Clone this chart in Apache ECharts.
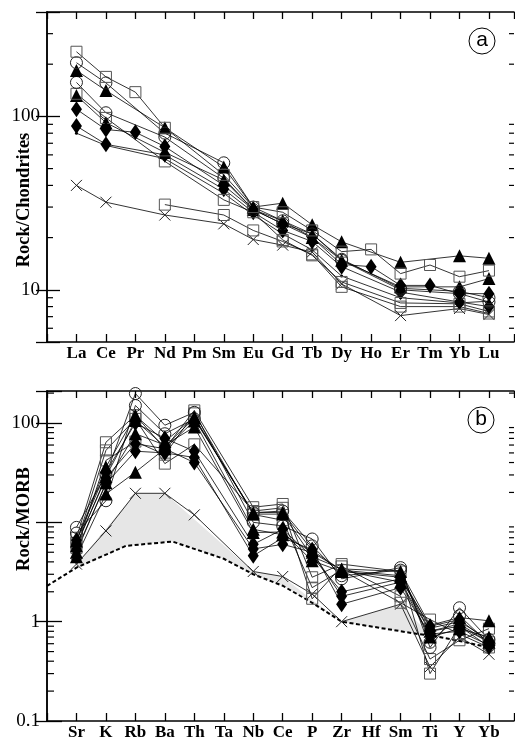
<!DOCTYPE html>
<html><head><meta charset="utf-8">
<script src="https://cdn.jsdelivr.net/npm/echarts@6/dist/echarts.min.js"></script>
<style>html,body{margin:0;padding:0;background:#fff}#c{width:515px;height:745px}</style>
</head><body><div id="c"></div>
<script>
// ---------- categories & tick labels ----------
const reeLabels = ['La','Ce','Pr','Nd','Pm','Sm','Eu','Gd','Tb','Dy','Ho','Er','Tm','Yb','Lu'];
const spiderLabels = ['Sr','K','Rb','Ba','Th','Ta','Nb','Ce','P','Zr','Hf','Sm','Ti','Y','Yb'];
const topYTicks = [10, 100];
const bottomYTicks = [0.1, 1, 100];

// ---------- (a) chondrite-normalised REE ----------
const reeSq1 = [236, 169, 138, 86, null, 46, 30, 28, 22, 16.6, 17.1, 12.4, 13.9, 11.9, 12.9];
const reeDi1 = [110, 84, 81, 67, null, 40, 29, 24, 20, 14, 13.6, 10.6, 10.6, 9.5, 9.5];
const reeCi1 = [204, 156, null, 80, null, 54, 30, 25, 21, 14.8, null, 10, null, 9.5, 8.5];
const reeTr1 = [184, 141, null, 86, null, 51, 30, 31.6, 23.7, 18.9, null, 14.4, null, 15.7, 15.2];
const reeCi2 = [157, 105, null, 76, null, 44, 29, 24, 21, 15, null, 10.2, null, 9.8, 9];
const reeSq2 = [135, 98, null, 55, null, 33, 28, 19.4, 15.8, 11.1, null, 8.4, null, 8.3, 7.5];
const reeTr2 = [132, 92, null, 62, null, 43, 29, 25, 20, 14.8, null, 10.4, null, 10.4, 11.6];
const reeDi2 = [88, 69, null, 60, null, 38, 28, 22, 19, 13.6, null, 9.7, null, 8.5, 8];
const reeDot = [80, 68, null, 57, null, 36, 27, 21, 17, 12, null, 9, null, 8.4, 8.6];
const reeSq3 = [null, null, null, 31, null, 27, 22, 19, 16, 10.4, null, 8, null, 8, 7.3];
const reeX   = [40, 32, null, 27, null, 24, 19.5, 18.1, 16.5, 10.8, null, 7.1, null, 7.8, 7.2];

// ---------- (b) MORB-normalised spidergram ----------
const morbSq1 = [7.0, 64, 120, 55, 134, null, 14.2, 15.3, 2.8, 3.8, null, 3.2, 0.30, 0.90, 0.62];
const morbSq2 = [6.2, 53, 110, 39, 61, null, 13.0, 14.0, 1.7, 3.6, null, 1.8, 0.42, 0.65, 0.85];
const morbSq3 = [5.5, 42, 65, 48, 125, null, 12.0, 10.5, 2.2, 3.3, null, 1.55, 1.05, 0.75, 0.55];
const morbCi1 = [8.9, 30, 198, 95, 128, null, 10.0, 9.2, 6.8, 2.7, null, 3.5, 0.55, 1.38, 0.66];
const morbCi2 = [7.8, 16.5, 150, 78, 110, null, 12.5, 13.0, 5.8, 2.9, null, 3.3, 0.62, 1.15, 0.60];
const morbTr1 = [6.5, 36, 119, 65, 115, null, 12.1, 12.1, 4.5, 3.4, null, 3.2, 0.92, 1.10, 1.02];
const morbTr2 = [5.0, 25, 78, 60, 91, null, 7.9, 8.0, 4.1, 3.2, null, 2.8, 0.80, 0.95, 0.62];
const morbTr3 = [4.5, 19.3, 32, 55, 105, null, 8.5, 7.5, 5.0, 3.3, null, 2.5, 0.70, 0.85, 0.70];
const morbTr4 = [5.8, 29, 106, 58, 112, null, 12.5, 12.6, 5.2, 3.3, null, 2.9, 0.86, 1.00, 0.66];
const morbDi1 = [6.0, 28, 62, 55, 40, null, 5.4, 6.0, 5.0, 1.8, null, 2.5, 0.80, 0.90, 0.56];
const morbDi2 = [5.2, 24.5, 52, 50, 45, null, 4.6, 7.0, 5.3, 1.5, null, 2.2, 0.75, 0.80, 0.58];
const morbDi3 = [6.6, 32, 100, 70, 52, null, 6.0, 8.5, 4.5, 2.0, null, 2.7, 0.90, 1.05, 0.62];
const morbX   = [3.8, 8.2, 19.6, 19.6, 11.9, null, 3.2, 2.85, 1.9, 1.0, null, 1.5, 0.35, 0.70, 0.47];

// reference curve (dashed) — positions in category units
const dashX = [0, 1, 2.68, 4.26, 6, 7, 8, 9, 10, 12.6, 13, 14, 15];
const dashY = [2.29, 3.5, 5.8, 6.4, 4.3, 3.0, 2.3, 1.55, 1.0, 0.75, 0.73, 0.64, 0.55];
// shaded field upper boundary (lower boundary = dashed curve)
const fieldX = [1, 3, 4, 7, 8, 9, 10, 12, 13];
const fieldY = [3.8, 19.6, 19.6, 3.2, 2.85, 1.65, 1.0, 1.5, 0.73];

// ---------- styling ----------
const X_MAX = 15.85;
const SERIF = 'Liberation Serif';
const MARK = {
  square:   {symbol:'rect', symbolSize:11, itemStyle:{color:'rgba(0,0,0,0)', borderColor:'#555', borderWidth:1}},
  circle:   {symbol:'circle', symbolSize:12, itemStyle:{color:'rgba(0,0,0,0)', borderColor:'#222', borderWidth:1}},
  triangle: {symbol:'triangle', symbolSize:13, itemStyle:{color:'#000'}},
  diamond:  {symbol:'diamond', symbolSize:[11,16], itemStyle:{color:'#000'}},
  cross:    {symbol:'path://M0,0L10,10M10,0L0,10', symbolSize:11, itemStyle:{color:'rgba(0,0,0,0)', borderColor:'#222', borderWidth:1}},
  dot:      {symbol:'circle', symbolSize:3, itemStyle:{color:'#000'}}
};
const topSamples = [
  [reeX,'cross'],[reeSq3,'square'],[reeDot,'dot'],[reeDi2,'diamond'],[reeTr2,'triangle'],[reeSq2,'square'],
  [reeCi2,'circle'],[reeTr1,'triangle'],[reeCi1,'circle'],[reeDi1,'diamond'],[reeSq1,'square']
];
const bottomSamples = [
  [morbX,'cross'],[morbSq1,'square'],[morbSq2,'square'],[morbSq3,'square'],[morbCi1,'circle'],[morbCi2,'circle'],
  [morbTr1,'triangle'],[morbTr2,'triangle'],[morbTr3,'triangle'],[morbTr4,'triangle'],
  [morbDi1,'diamond'],[morbDi2,'diamond'],[morbDi3,'diamond']
];

function sampleSeries(values, kind, gi) {
  const pts = [];
  values.forEach((v, i) => { if (v != null) pts.push([i + 1, v]); });
  return Object.assign({
    type:'line', xAxisIndex:gi*2, yAxisIndex:gi*2, data:pts, showAllSymbol:true,
    lineStyle:{color:'#000', width:0.8}, silent:true, z:4
  }, MARK[kind]);
}
function minorTickValues(lo, hi) {
  const out = [];
  for (let e = Math.floor(Math.log10(lo)); e <= Math.ceil(Math.log10(hi)); e++)
    for (let m = 2; m <= 9; m++) { const v = m * Math.pow(10, e); if (v > lo * 1.0001 && v < hi * 0.9999) out.push(v); }
  return out;
}
function minorTickSeries(gi, lo, hi, lenL, lenR) {
  return {
    type:'custom', xAxisIndex:gi*2, yAxisIndex:gi*2, silent:true, z:6, clip:false,
    data:minorTickValues(lo, hi).map(v => [0, v]), encode:{x:0, y:1},
    renderItem:(p, api) => {
      const v = api.value(1), l = api.coord([0, v]), r = api.coord([X_MAX, v]);
      return {type:'group', children:[
        {type:'line', shape:{x1:l[0], y1:l[1], x2:l[0]+lenL, y2:l[1]}, style:{stroke:'#000', lineWidth:1.2}},
        {type:'line', shape:{x1:r[0]-lenR, y1:r[1], x2:r[0], y2:r[1]}, style:{stroke:'#000', lineWidth:1.2}}
      ]};
    }
  };
}
function tickFmt(list) {
  return v => { const t = list.find(t => Math.abs(t - v) / t < 1e-6); return t == null ? '' : String(t); };
}
function xAxes(gi, labels) {
  const base = {gridIndex:gi, type:'value', min:0, max:X_MAX, interval:1, splitLine:{show:false},
    axisLine:{lineStyle:{color:'#000', width:1.5}}};
  return [
    Object.assign({}, base, {position:'bottom',
      axisTick:{inside:true, length:8, lineStyle:{color:'#000', width:1.3}},
      axisLabel:{margin:3, color:'#000', fontFamily:SERIF, fontWeight:'bold', fontSize:17,
        formatter:v => (Number.isInteger(v) && labels[v-1]) ? labels[v-1] : ''}}),
    Object.assign({}, base, {position:'top',
      axisTick:{inside:true, length:7, lineStyle:{color:'#000', width:1.3}}, axisLabel:{show:false}})
  ];
}
function yAxes(gi, lo, hi, ticks, lenL, lenR) {
  const base = {gridIndex:gi, type:'log', logBase:10, min:lo, max:hi, splitLine:{show:false},
    axisLine:{lineStyle:{color:'#000', width:1.5}}};
  return [
    Object.assign({}, base, {position:'left',
      axisTick:{inside:true, length:lenL, lineStyle:{color:'#000', width:1.3}},
      axisLabel:{margin:7, color:'#000', fontFamily:SERIF, fontSize:19, formatter:tickFmt(ticks)}}),
    Object.assign({}, base, {position:'right',
      axisTick:{inside:true, length:lenR, lineStyle:{color:'#000', width:1.3}}, axisLabel:{show:false}})
  ];
}

const series = [];
// shaded field
series.push({
  type:'custom', xAxisIndex:2, yAxisIndex:2, silent:true, z:1, data:[[1, 1]], encode:{x:0, y:1},
  renderItem:(p, api) => {
    const pts = fieldX.map((x, i) => api.coord([x, fieldY[i]]));
    for (let i = dashX.length - 1; i >= 0; i--)
      if (dashX[i] >= fieldX[0] && dashX[i] <= fieldX[fieldX.length-1]) pts.push(api.coord([dashX[i], dashY[i]]));
    return {type:'polygon', shape:{points:pts}, style:{fill:'#e6e6e6', stroke:'none'}};
  }
});
series.push({type:'line', xAxisIndex:2, yAxisIndex:2, silent:true, z:2, symbol:'none',
  data:dashX.map((x, i) => [x, dashY[i]]), lineStyle:{color:'#000', width:2, type:[4, 2.5]}});
topSamples.forEach(s => series.push(sampleSeries(s[0], s[1], 0)));
bottomSamples.forEach(s => series.push(sampleSeries(s[0], s[1], 1)));
series.push(minorTickSeries(0, 5, 400, 6, 5));
series.push(minorTickSeries(1, 0.1, 210, 7, 5));

const chart = echarts.init(document.getElementById('c'), null, {renderer:'canvas'});
chart.setOption({
  animation:false,
  backgroundColor:'#fff',
  grid:[
    {left:47, top:12, width:467, height:330, outerBoundsMode:'none', containLabel:false},
    {left:47, top:391, width:467, height:330, outerBoundsMode:'none', containLabel:false}
  ],
  xAxis:[...xAxes(0, reeLabels), ...xAxes(1, spiderLabels)],
  yAxis:[...yAxes(0, 5, 400, topYTicks, 13, 11), ...yAxes(1, 0.1, 210, bottomYTicks, 15, 11)],
  series:series,
  graphic:[
    {type:'text', x:24, y:200, rotation:Math.PI/2, style:{text:'Rock/Chondrites', font:'bold 18.5px "Liberation Serif"', align:'center', verticalAlign:'middle', fill:'#000'}},
    {type:'text', x:24, y:519, rotation:Math.PI/2, style:{text:'Rock/MORB', font:'bold 18.5px "Liberation Serif"', align:'center', verticalAlign:'middle', fill:'#000'}},
    {type:'circle', shape:{cx:482, cy:41, r:13}, style:{fill:'#fff', stroke:'#000', lineWidth:1}, z:100},
    {type:'text', x:482, y:40, style:{text:'a', font:'21px "Liberation Sans"', align:'center', verticalAlign:'middle', fill:'#000'}, z:101},
    {type:'circle', shape:{cx:481, cy:420, r:13}, style:{fill:'#fff', stroke:'#000', lineWidth:1}, z:100},
    {type:'text', x:481, y:419, style:{text:'b', font:'21px "Liberation Sans"', align:'center', verticalAlign:'middle', fill:'#000'}, z:101}
  ]
});
</script></body></html>
